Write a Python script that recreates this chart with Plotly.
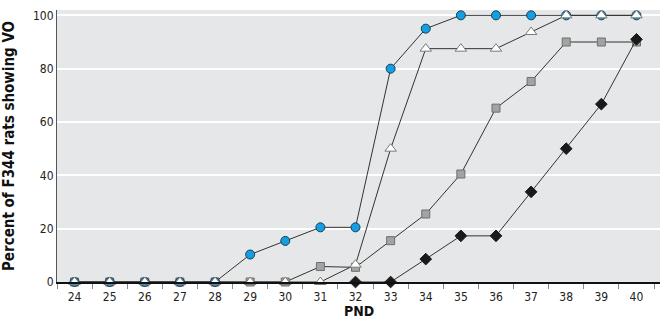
import plotly.graph_objects as go

pnd = list(range(24, 41))
tick_labels = [str(v) for v in pnd]

circles = [0, 0, 0, 0, 0, 10.3, 15.4, 20.5, 20.5, 80, 95, 100, 100, 100, 100, 100, 100]
triangles = [0, 0, 0, 0, 0, 0, 0, 0, 6.5, 50, 87.5, 87.5, 87.5, 93.75, 100, 100, 100]
squares = [0, 0, 0, 0, 0, 0, 0, 5.8, 5.5, 15.5, 25.5, 40.5, 65.2, 75.2, 90, 90, 90]
diamonds = [None, None, None, None, None, None, None, None, 0, 0, 8.6, 17.3, 17.3, 33.8, 50, 66.7, 91]

y_ticks = [0, 20, 40, 60, 80, 100]
minor_ticks = [v + 0.5 for v in range(23, 41)]

FONT = "DejaVu Sans Condensed, Liberation Sans Narrow, sans-serif"
line = dict(color="#333333", width=1)

fig = go.Figure()
fig.add_trace(go.Scatter(x=pnd, y=squares, mode="lines+markers", line=line, cliponaxis=False,
                         marker=dict(symbol="square", size=8, color="#a3a3a3",
                                     line=dict(color="#6e6e6e", width=1))))
fig.add_trace(go.Scatter(x=pnd, y=circles, mode="lines+markers", line=line, cliponaxis=False,
                         marker=dict(symbol="circle", size=9, color="#12a0e2",
                                     line=dict(color="#1d3b55", width=1))))
fig.add_trace(go.Scatter(x=pnd, y=triangles, mode="lines+markers", line=line, cliponaxis=False,
                         marker=dict(symbol="triangle-up", size=10, color="#ffffff",
                                     line=dict(color="#7a7a7a", width=1))))
fig.add_trace(go.Scatter(x=pnd, y=diamonds, mode="lines+markers", line=line, cliponaxis=False,
                         connectgaps=False,
                         marker=dict(symbol="diamond", size=9, color="#1a1a1a",
                                     line=dict(color="#1a1a1a", width=1))))

fig.update_layout(
    width=662, height=320,
    margin=dict(l=57, r=2, t=10, b=38),
    paper_bgcolor="#ffffff",
    plot_bgcolor="#e6e7e8",
    showlegend=False,
    font=dict(family=FONT, size=12, color="#222222"),
    xaxis=dict(
        range=[23.5, 40.67], automargin=False,
        tickmode="array", tickvals=pnd, ticktext=tick_labels,
        ticks="", showgrid=False, zeroline=False, ticklabelstandoff=3,
        showline=True, linecolor="#111111", linewidth=2,
        tickfont=dict(family=FONT, size=12, color="#222222"),
        minor=dict(tickmode="array", tickvals=minor_ticks, ticks="outside",
                   ticklen=5, tickcolor="#888888", tickwidth=1, showgrid=False),
    ),
    yaxis=dict(
        range=[0, 102], automargin=False,
        tickmode="array", tickvals=y_ticks,
        ticks="", showgrid=True, gridcolor="#ffffff", gridwidth=1.5,
        zeroline=False, showline=True, linecolor="#555555", linewidth=1,
        tickfont=dict(family=FONT, size=12, color="#222222"),
        title=dict(text="<b>Percent of F344 rats showing VO</b>",
                   font=dict(family=FONT, size=15, color="#111111")),
    ),
    annotations=[dict(text="<b>PND</b>", xref="paper", yref="paper", x=0.5, y=0,
                      xanchor="center", yanchor="top", yshift=-19, showarrow=False,
                      font=dict(family=FONT, size=14, color="#111111"))],
)

fig.write_html("out.html", config={"displayModeBar": False},
               post_script="document.body.style.margin='0';document.body.style.overflow='hidden';")
